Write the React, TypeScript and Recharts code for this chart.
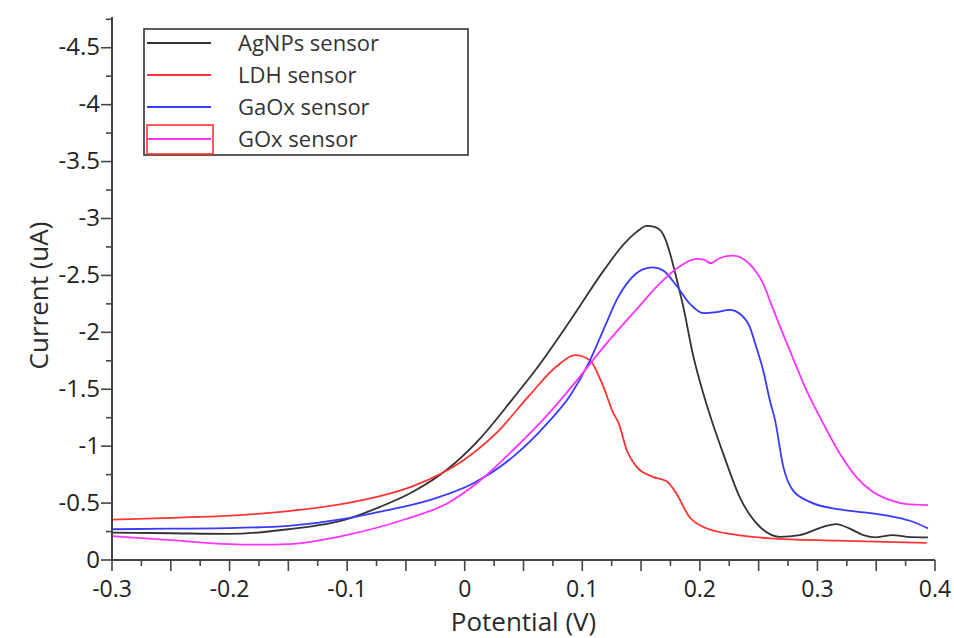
import { LineChart, Line, XAxis, YAxis, Legend, Label } from "recharts";

// Differential pulse voltammograms, potential (V) vs current (uA)
const agnps = [
  [-0.3, -0.24], [-0.25, -0.235], [-0.2, -0.23], [-0.15, -0.27], [-0.1, -0.36],
  [-0.072, -0.467], [-0.044, -0.6], [-0.015, -0.795], [0.013, -1.067], [0.041, -1.418],
  [0.061, -1.68], [0.0895, -2.1], [0.118, -2.54], [0.135, -2.77], [0.146, -2.88],
  [0.155, -2.935], [0.162, -2.925], [0.167, -2.89], [0.171, -2.81], [0.175, -2.68],
  [0.18, -2.48], [0.186, -2.22], [0.194, -1.81], [0.203, -1.46], [0.21, -1.227],
  [0.22, -0.93], [0.234, -0.55], [0.251, -0.292], [0.268, -0.204], [0.285, -0.219],
  [0.305, -0.292], [0.316, -0.316], [0.327, -0.278], [0.339, -0.219], [0.35, -0.199],
  [0.364, -0.219], [0.376, -0.204], [0.394, -0.199],
];

const ldh = [
  [-0.3, -0.355], [-0.25, -0.37], [-0.2, -0.39], [-0.15, -0.43], [-0.1, -0.5],
  [-0.072, -0.561], [-0.044, -0.649], [-0.02, -0.76], [-0.001, -0.877], [0.027, -1.116],
  [0.055, -1.446], [0.078, -1.7], [0.094, -1.8], [0.106, -1.76], [0.118, -1.52],
  [0.126, -1.3], [0.131, -1.2], [0.138, -0.96], [0.146, -0.82], [0.16, -0.73],
  [0.172, -0.69], [0.18, -0.585], [0.191, -0.38], [0.203, -0.29], [0.231, -0.22],
  [0.26, -0.19], [0.316, -0.17], [0.393, -0.15],
];

const gaox = [
  [-0.3, -0.27], [-0.25, -0.275], [-0.2, -0.28], [-0.15, -0.3], [-0.1, -0.365],
  [-0.072, -0.424], [-0.03, -0.526], [0.007, -0.672], [0.041, -0.906], [0.07, -1.198],
  [0.09, -1.45], [0.105, -1.72], [0.12, -2.07], [0.13, -2.3], [0.138, -2.43],
  [0.145, -2.51], [0.152, -2.555], [0.16, -2.571], [0.169, -2.542], [0.18, -2.411],
  [0.1915, -2.25], [0.203, -2.168], [0.214, -2.177], [0.2255, -2.198], [0.234, -2.163],
  [0.2425, -2.046], [0.248, -1.87], [0.254, -1.66], [0.2595, -1.403], [0.264, -1.227],
  [0.271, -0.818], [0.279, -0.614], [0.2935, -0.511], [0.319, -0.444], [0.347, -0.409],
  [0.367, -0.374], [0.381, -0.336], [0.394, -0.278],
];

const gox = [
  [-0.3, -0.21], [-0.25, -0.175], [-0.2, -0.14], [-0.18, -0.135], [-0.15, -0.14],
  [-0.1, -0.22], [-0.05, -0.36], [-0.015, -0.497], [0.01, -0.672], [0.041, -0.964],
  [0.07, -1.27], [0.094, -1.56], [0.118, -1.87], [0.146, -2.2], [0.166, -2.43],
  [0.183, -2.58], [0.197, -2.645], [0.204, -2.636], [0.209, -2.607], [0.217, -2.653],
  [0.228, -2.674], [0.237, -2.645], [0.245, -2.571], [0.254, -2.426], [0.2595, -2.279],
  [0.2765, -1.841], [0.2907, -1.49], [0.305, -1.198], [0.319, -0.935], [0.333, -0.73],
  [0.347, -0.599], [0.362, -0.526], [0.376, -0.491], [0.394, -0.482],
];

const seriesNames = ["AgNPs sensor", "LDH sensor", "GaOx sensor", "GOx sensor"];
const seriesColors = ["#333333", "#ff3333", "#3a3aff", "#ff33ff"];
const seriesData = [agnps, ldh, gaox, gox];

const xTicks = [
  -0.3, -0.275, -0.25, -0.225, -0.2, -0.175, -0.15, -0.125, -0.1, -0.075, -0.05, -0.025,
  0, 0.025, 0.05, 0.075, 0.1, 0.125, 0.15, 0.175, 0.2, 0.225, 0.25, 0.275, 0.3, 0.325,
  0.35, 0.375, 0.4,
];
const xLabelValues = [-0.3, -0.2, -0.1, 0, 0.1, 0.2, 0.3, 0.4];
const xLabels = ["-0.3", "-0.2", "-0.1", "0", "0.1", "0.2", "0.3", "0.4"];

const yTicks = [
  0, -0.25, -0.5, -0.75, -1, -1.25, -1.5, -1.75, -2, -2.25, -2.5, -2.75, -3, -3.25,
  -3.5, -3.75, -4, -4.25, -4.5, -4.75,
];
const yLabelValues = [0, -0.5, -1, -1.5, -2, -2.5, -3, -3.5, -4, -4.5];
const yLabels = ["0", "-0.5", "-1", "-1.5", "-2", "-2.5", "-3", "-3.5", "-4", "-4.5"];

const FONT = "'Open Sans', sans-serif";
const AXIS = "#444";

const near = (a: number, b: number) => Math.abs(a - b) < 1e-6;
const toPoints = (arr: number[][]) => arr.map(([x, y]) => ({ x, y }));

function XTick(props: any) {
  const { x, y, payload } = props;
  const v = payload.value;
  const big = near(Math.round(v * 20) / 20, v);
  const idx = xLabelValues.findIndex((l) => near(l, v));
  return (
    <g>
      <line x1={x} x2={x} y1={y} y2={y + (big ? 11 : 6)} stroke={AXIS} strokeWidth={1.6} />
      {idx >= 0 && (
        <text x={x} y={y + 37} textAnchor="middle" fontSize={23} fontFamily={FONT} fill="#222">
          {xLabels[idx]}
        </text>
      )}
    </g>
  );
}

function YTick(props: any) {
  const { x, y, payload } = props;
  const v = payload.value;
  const idx = yLabelValues.findIndex((l) => near(l, v));
  return (
    <g>
      <line x1={x - (idx >= 0 ? 11 : 6)} x2={x} y1={y} y2={y} stroke={AXIS} strokeWidth={1.6} />
      {idx >= 0 && (
        <text x={x - 12} y={y + 5} dy={2.5} textAnchor="end" fontSize={24} fontFamily={FONT} fill="#222">
          {yLabels[idx]}
        </text>
      )}
    </g>
  );
}

function LegendBox() {
  const rows = [15, 47, 79, 111];
  return (
    <svg width={327} height={129} style={{ display: "block" }}>
      <rect x={1} y={1} width={324} height={126} fill="#fff" stroke="#333" strokeWidth={1.6} />
      {seriesNames.map((name, i) => (
        <g key={name}>
          <line x1={4} x2={68} y1={rows[i]} y2={rows[i]} stroke={seriesColors[i]} strokeWidth={2} />
          <text x={95} y={rows[i]} dy="0.35em" fontSize={22} fontFamily={FONT} fill="#333">
            {name}
          </text>
        </g>
      ))}
      <rect x={4} y={97} width={66} height={29} fill="none" stroke="#ff3333" strokeWidth={1.6} />
    </svg>
  );
}

export default function App() {
  return (
    <div style={{ position: "absolute", left: 0, top: 0, background: "#fff" }}>
      <LineChart width={954} height={638} margin={{ top: 17, right: 19, left: 12, bottom: 0 }}>
        <XAxis
          dataKey="x"
          type="number"
          domain={[-0.3, 0.4]}
          ticks={xTicks}
          interval={0}
          height={78}
          tickSize={0}
          tickMargin={0}
          tickLine={false}
          tick={<XTick />}
          axisLine={{ stroke: AXIS, strokeWidth: 2 }}
          allowDataOverflow
        >
          <Label
            content={(p: any) => (
              <text
                x={p.viewBox.x + p.viewBox.width / 2}
                y={p.viewBox.y + 71}
                textAnchor="middle"
                fontSize={26}
                fontFamily={FONT}
                fill="#2b2b2b"
              >
                Potential (V)
              </text>
            )}
          />
        </XAxis>
        <YAxis
          type="number"
          domain={[-4.77, 0]}
          reversed
          ticks={yTicks}
          interval={0}
          width={100}
          tickSize={0}
          tickMargin={0}
          tickLine={false}
          tick={<YTick />}
          axisLine={{ stroke: AXIS, strokeWidth: 2 }}
          allowDataOverflow
        >
          <Label
            content={(p: any) => (
              <text
                transform={`translate(48, ${p.viewBox.y + p.viewBox.height / 2 + 7}) rotate(-90)`}
                textAnchor="middle"
                fontSize={26}
                fontFamily={FONT}
                fill="#2b2b2b"
              >
                Current (uA)
              </text>
            )}
          />
        </YAxis>
        <Legend
          layout="vertical"
          align="center"
          verticalAlign="middle"
          wrapperStyle={{ left: 143, top: 28, width: 327, height: 129 }}
          content={() => <LegendBox />}
        />
        {seriesData.map((d, i) => (
          <Line
            key={seriesNames[i]}
            data={toPoints(d)}
            dataKey="y"
            name={seriesNames[i]}
            type="monotone"
            stroke={seriesColors[i]}
            strokeWidth={1.8}
            dot={false}
            activeDot={false}
            isAnimationActive={false}
          />
        ))}
      </LineChart>
    </div>
  );
}
